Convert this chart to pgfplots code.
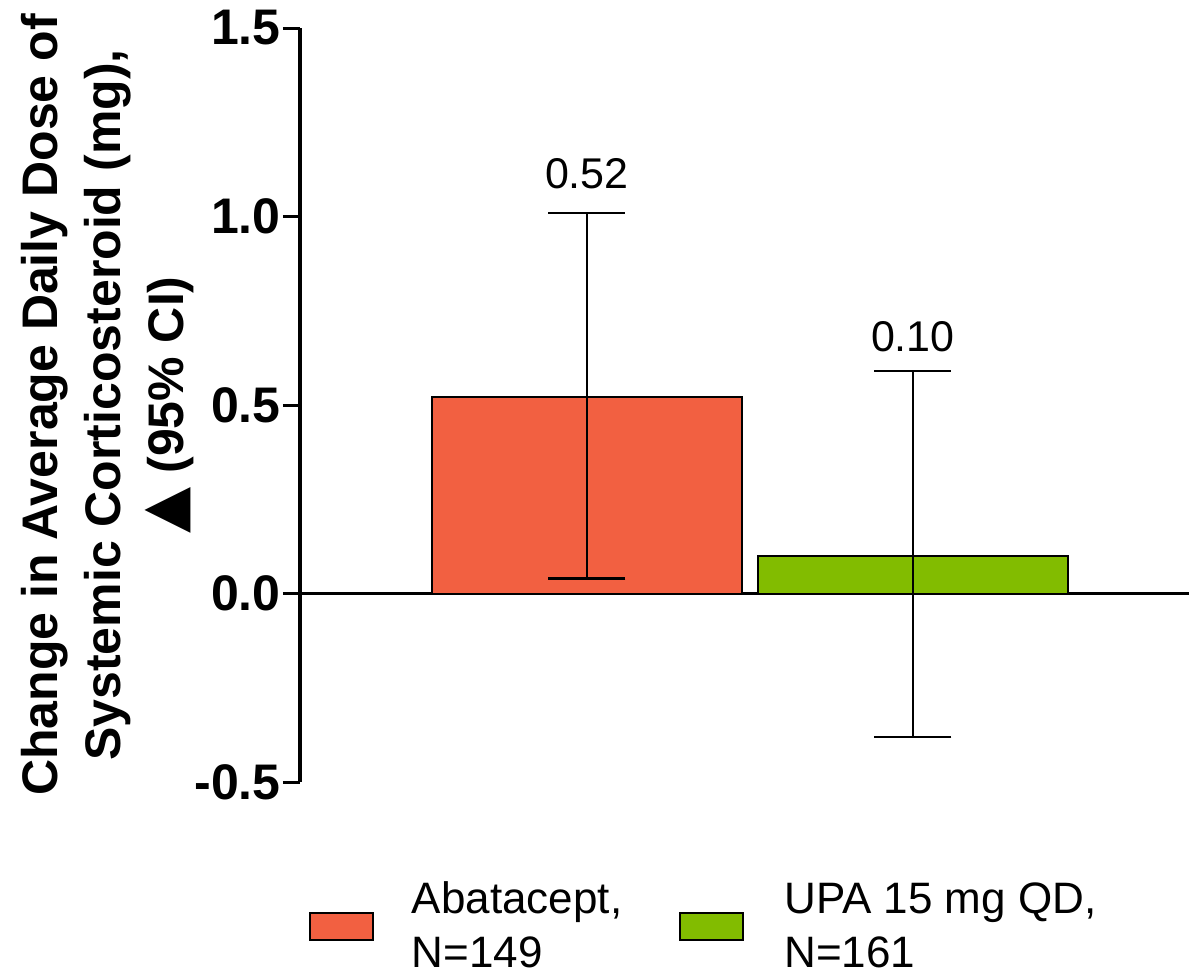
\documentclass[border=0pt]{standalone}
\usepackage{fontspec}
\setmainfont{Liberation Sans}
\newfontfamily\dejavu{DejaVu Sans}
\usepackage{pgfplots}
\pgfplotsset{compat=1.18}
\definecolor{abaorange}{HTML}{F26041}
\definecolor{upagreen}{HTML}{82BC00}

\begin{document}
\begin{tikzpicture}
\begin{axis}[
  width=444.5pt, height=377pt, scale only axis,
  xmin=-0.880, xmax=1.847,
  ymin=-0.5, ymax=1.5,
  axis y line*=left,
  axis x line*=middle,
  axis line style={line width=1.7pt, black},
  xtick=\empty,
  ytick={-0.5,0,0.5,1,1.5},
  yticklabels={-0.5,0.0,0.5,1.0,1.5},
  tick align=outside,
  major tick length=8.5pt,
  tick style={line width=1.5pt, black},
  yticklabel style={font=\fontsize{25}{30}\selectfont\bfseries, inner sep=1pt},
  ylabel={Change in Average Daily Dose of\\Systemic Corticosteroid (mg),\\{\dejavu\fontsize{30}{30}\selectfont ▲} (95\% CI)},
  ylabel style={font=\fontsize{25}{31.5}\selectfont\bfseries, align=center,
    at={(rel axis cs:-0.2166,0.5)}, anchor=center},
  bar width=0.951,
  legend cell align=left,
  legend style={draw=none, inner sep=0pt, outer sep=0pt,
    at={(rel axis cs:0,0)}, anchor=north west, xshift=4.5pt, yshift=-50pt,
    font=\fontsize{22}{27}\selectfont,
    cells={align=left},
    nodes={inner sep=0pt},
    /tikz/every even column/.append style={column sep=28.5pt}},
  legend columns=2,
]
\addplot[ybar, bar shift=0pt, fill=abaorange, draw=black, line width=1pt,
  legend image code/.code={\draw[fill=abaorange, draw=black, line width=1pt] (0pt,-6.75pt) rectangle (31.5pt,6.75pt); \path (50.5pt,0pt);},
  error bars/.cd, y dir=both, y explicit,
  error bar style={line width=1pt, black},
  error mark options={rotate=90, mark size=19.25pt, line width=1.2pt, black}]
  coordinates {(0,0.52) += (0,0.49) -= (0,0.48)};
\addlegendentry{Abatacept,\\N=149}
\addplot[ybar, bar shift=0pt, fill=upagreen, draw=black, line width=1pt,
  legend image code/.code={\draw[fill=upagreen, draw=black, line width=1pt] (0pt,-6.75pt) rectangle (31.5pt,6.75pt); \path (51.5pt,0pt);},
  error bars/.cd, y dir=both, y explicit,
  error bar style={line width=1pt, black},
  error mark options={rotate=90, mark size=19.25pt, line width=1.2pt, black}]
  coordinates {(1,0.10) += (1,0.49) -= (1,0.48)};
\addlegendentry{UPA 15 mg QD,\\N=161}
\node[anchor=base, font=\fontsize{21.5}{26}\selectfont] at (axis cs:0,1.01) [yshift=12pt] {0.52};
\node[anchor=base, font=\fontsize{21.5}{26}\selectfont] at (axis cs:1,0.59) [yshift=10pt] {0.10};
\coordinate (O) at (rel axis cs:0,0);
\end{axis}
\pgfresetboundingbox
\path ([xshift=-150pt,yshift=-97pt]O) rectangle ([xshift=444.5pt,yshift=391pt]O);
\end{tikzpicture}
\end{document}
